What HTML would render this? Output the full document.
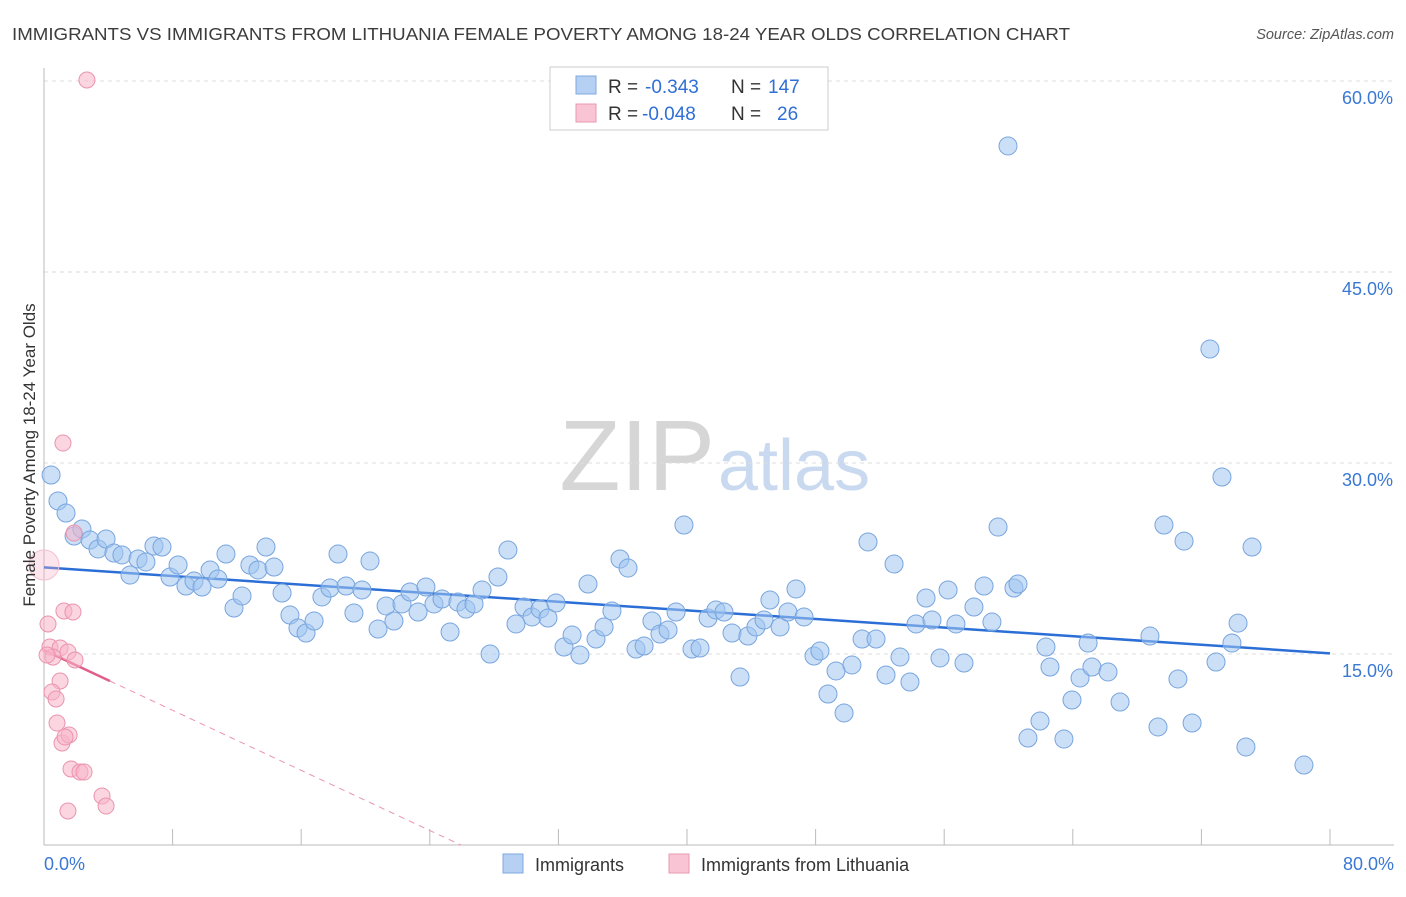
<!DOCTYPE html>
<html><head><meta charset="utf-8"><style>
body{margin:0;background:#fff;font-family:"Liberation Sans",sans-serif;}
svg text{font-family:"Liberation Sans",sans-serif;}
</style></head><body>
<svg id="chart" width="1406" height="892">
<text x="12" y="40" font-size="17.5" fill="#3c3c3c" textLength="1058" lengthAdjust="spacingAndGlyphs">IMMIGRANTS VS IMMIGRANTS FROM LITHUANIA FEMALE POVERTY AMONG 18-24 YEAR OLDS CORRELATION CHART</text>
<text x="1394" y="39" font-size="14.5" fill="#555" text-anchor="end" font-style="italic">Source: ZipAtlas.com</text>
<text x="715" y="490" font-size="100" fill="#d6d6d6" text-anchor="end" font-family="Liberation Serif">ZIP</text>
<text x="718" y="490" font-size="72" fill="#c9d9ef">atlas</text>
<g id="grid"></g><g id="axes"></g><g id="trend"></g><g id="pts"></g>
<text x="35" y="455" font-size="17" fill="#333" text-anchor="middle" transform="rotate(-90 35 455)">Female Poverty Among 18-24 Year Olds</text>
<g>
<rect x="550" y="67" width="278" height="63" fill="#fff" stroke="#ccc"/>
<rect x="576" y="76" width="20" height="18" fill="#b6d0f3" stroke="#7fa8dd"/>
<text x="608" y="93" font-size="19" fill="#333">R =</text>
<text x="645" y="93" font-size="19" fill="#2f6fd6">-0.343</text>
<text x="731" y="93" font-size="19" fill="#333">N =</text>
<text x="768" y="93" font-size="19" fill="#2f6fd6">147</text>
<rect x="576" y="104" width="20" height="18" fill="#f9c4d3" stroke="#e99ab2"/>
<text x="608" y="120" font-size="19" fill="#333">R =</text>
<text x="642" y="120" font-size="19" fill="#2f6fd6">-0.048</text>
<text x="731" y="120" font-size="19" fill="#333">N =</text>
<text x="777" y="120" font-size="19" fill="#2f6fd6">26</text>
</g>
<g>
<rect x="503" y="854" width="20" height="19" fill="#b6d0f3" stroke="#7fa8dd"/>
<text x="535" y="871" font-size="18" fill="#333">Immigrants</text>
<rect x="669" y="854" width="20" height="19" fill="#f9c4d3" stroke="#e99ab2"/>
<text x="701" y="871" font-size="18" fill="#333">Immigrants from Lithuania</text>
</g>
</svg>
<script>
const xTicks=[0,10,20,30,40,50,60,70,80];
const yTicks=[15,30,45,60];
const blueX=[0.44,0.87,1.37,1.87,2.36,2.86,3.36,3.86,4.35,4.85,5.35,5.85,6.34,6.84,7.34,7.84,8.34,8.83,9.33,9.83,10.33,10.82,11.32,11.82,12.32,12.81,13.31,13.81,14.31,14.81,15.30,15.80,16.30,16.80,17.29,17.79,18.29,18.79,19.28,19.78,20.28,20.78,21.28,21.77,22.27,22.77,23.27,23.76,24.26,24.76,25.26,25.75,26.25,26.75,27.25,27.75,28.24,28.86,29.36,29.86,30.36,30.86,31.35,31.85,32.35,32.85,33.34,33.84,34.34,34.84,35.33,35.83,36.33,36.83,37.33,37.82,38.32,38.82,39.32,39.81,40.31,40.81,41.31,41.80,42.30,42.80,43.30,43.79,44.29,44.79,45.16,45.79,46.28,46.78,47.28,47.90,48.27,48.77,49.27,49.77,50.26,50.89,51.26,51.76,52.38,52.88,53.25,53.87,54.25,54.87,55.24,55.74,56.24,56.73,57.23,57.85,58.48,58.97,59.35,59.97,60.34,60.59,61.21,61.96,62.33,62.58,63.45,63.95,64.45,64.95,65.19,66.19,66.94,68.80,69.30,69.67,70.54,70.92,71.42,72.53,72.91,73.28,73.90,74.28,74.77,75.15,78.38];
const blueY=[29.06,27.02,26.07,24.27,24.82,23.95,23.25,24.03,22.93,22.78,21.20,22.46,22.23,23.48,23.40,21.05,21.99,20.34,20.73,20.26,21.60,20.89,22.85,18.61,19.56,21.99,21.60,23.40,21.83,19.79,18.06,17.04,16.65,17.59,19.48,20.18,22.85,20.34,18.22,20.03,22.30,16.96,18.77,17.59,18.93,19.87,18.30,20.26,18.93,19.32,16.73,19.08,18.53,18.93,20.03,15.00,21.05,23.17,17.36,18.69,17.91,18.53,17.83,19.01,15.55,16.49,14.92,20.50,16.18,17.12,18.38,22.46,21.75,15.39,15.63,17.59,16.57,16.89,18.30,25.13,15.39,15.47,17.83,18.46,18.30,16.65,13.19,16.41,17.12,17.67,19.24,17.12,18.30,20.11,17.91,14.84,15.24,11.86,13.67,10.37,14.14,16.18,23.80,16.18,13.35,22.07,14.76,12.80,17.36,19.40,17.67,14.69,20.03,17.36,14.29,18.69,20.34,17.51,24.97,54.90,20.18,20.50,8.40,9.74,15.55,13.98,8.32,11.39,13.12,15.86,13.98,13.59,11.23,16.41,9.27,25.13,13.04,23.87,9.58,38.95,14.37,28.90,15.86,17.43,7.70,23.40,6.28];
const pinkX=[2.67,1.18,0,1.87,0.25,1.24,1.80,0.37,1.0,1.49,1.93,0.56,1.0,0.5,0.75,0.81,1.12,1.56,1.31,1.68,2.24,2.49,3.61,3.86,1.49,0.19];
const pinkY=[60.08,31.57,21.99,24.50,17.36,18.38,18.30,15.55,15.47,15.16,14.53,14.76,12.88,12.02,11.47,9.58,8.01,8.64,8.48,5.97,5.73,5.73,3.85,3.06,2.67,14.92];
const pinkSize=[8,8,15,8,8,8,8,8,8,8,8,8,8,8,8,8,8,8,8,8,8,8,8,8,8,8];
const blueTrend=[21.8,15.05];
const pinkTrend=[15.3,-0.59];
const pinkSolidEnd=4.1;
const X=v=>44+v*16.075, Y=v=>845-v*12.733;
const NS="http://www.w3.org/2000/svg";
function mk(t,a,p){const e=document.createElementNS(NS,t);for(const k in a)e.setAttribute(k,a[k]);document.getElementById(p).appendChild(e);return e;}
yTicks.forEach(v=>{
 const l=mk('line',{x1:44,x2:1394,y1:Y(v),y2:Y(v),stroke:'#ddd','stroke-dasharray':'4,4'},'grid');
 
 
 const t=mk('text',{x:1393,y:Y(v)+23,'font-size':18,fill:'#3a78d4','text-anchor':'end'},'axes');
 t.textContent=v.toFixed(1)+'%';
 
 
});
const ax=mk('line',{x1:44,x2:1394,y1:845,y2:845,stroke:'#bbb'},'axes');


const ay=mk('line',{x1:44,x2:44,y1:68,y2:845,stroke:'#bbb'},'axes');


for(let v=0;v<=80;v+=8){const t=mk('line',{x1:X(v),x2:X(v),y1:829,y2:845,stroke:'#bbb'},'axes');
 
 }
[[0,'0.0%','start',44],[80,'80.0%','end',1394]].forEach(d=>{const t=mk('text',{x:d[3],y:870,'font-size':18,fill:'#3a78d4','text-anchor':d[2]},'axes');t.textContent=d[1];
 
 });
blueX.forEach((x,i)=>{const c=mk('circle',{cx:X(x),cy:Y(blueY[i]),r:9,fill:'rgba(160,196,240,0.55)',stroke:'#78a5de','stroke-width':1},'pts');
 
 });
pinkX.forEach((x,i)=>{const c=mk('circle',{cx:X(x),cy:Y(pinkY[i]),r:pinkSize[i],fill:pinkSize[i]>10?'rgba(247,180,200,0.35)':'rgba(247,180,200,0.55)',stroke:pinkSize[i]>10?'#f3c0cf':'#eb93ae','stroke-width':1},'pts');
 
 });
const bl=mk('line',{x1:X(0),y1:Y(blueTrend[0]),x2:X(80),y2:Y(blueTrend[1]),stroke:'#2b6fd6','stroke-width':2.5},'trend');


const zx=-pinkTrend[0]/pinkTrend[1];
const pd=mk('line',{x1:X(pinkSolidEnd),y1:Y(pinkTrend[0]+pinkTrend[1]*pinkSolidEnd),x2:X(zx),y2:Y(0),stroke:'#eb93ae','stroke-width':1,'stroke-dasharray':'6,5'},'trend');


const ps=mk('line',{x1:X(0),y1:Y(pinkTrend[0]),x2:X(pinkSolidEnd),y2:Y(pinkTrend[0]+pinkTrend[1]*pinkSolidEnd),stroke:'#e0608a','stroke-width':2.5},'trend');


</script>
</body></html>
